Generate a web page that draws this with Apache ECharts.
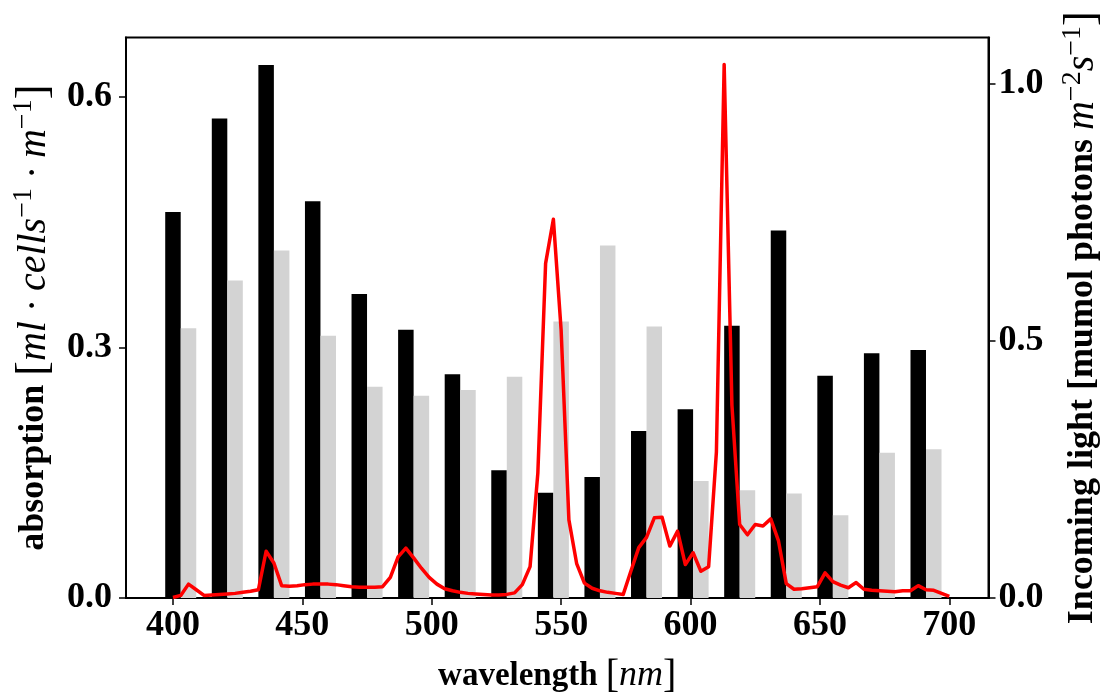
<!DOCTYPE html>
<html>
<head>
<meta charset="utf-8">
<script src="https://cdn.jsdelivr.net/npm/echarts@6/dist/echarts.min.js"></script>
<style>
html,body{margin:0;padding:0;background:#fff;}
#chart{width:1110px;height:693px;}
</style>
</head>
<body>
<div id="chart"></div>
<script>
// Absorption bars (left axis)
const blackWavelengths = [400,418,436,454,472,490,508,526,544,562,580,598,616,634,652,670,688];
const blackAbsorption = [0.462,0.574,0.638,0.475,0.364,0.321,0.268,0.153,0.126,0.145,0.200,0.226,0.326,0.440,0.266,0.293,0.297];
const greyWavelengths = [406,424,442,460,478,496,514,532,550,568,586,604,622,640,658,676,694];
const greyAbsorption = [0.323,0.380,0.416,0.314,0.253,0.242,0.249,0.265,0.331,0.422,0.325,0.140,0.129,0.125,0.099,0.174,0.178];

// Incoming light (right axis)
const lightWavelengths = [400,403,406,409,412,415,418,421,424,427,430,433,436,439,442,445,448,451,454,457,460,463,466,469,472,475,478,481,484,487,490,493,496,499,502,505,508,511,514,517,520,523,526,529,532,535,538,541,544,547,550,553,556,559,562,565,568,571,574,577,580,583,586,589,592,595,598,601,604,607,610,613,616,619,622,625,628,631,634,637,640,643,646,649,652,655,658,661,664,667,670,673,676,679,682,685,688,691,694,697,700];
const lightValues = [0.001,0.005,0.027,0.016,0.005,0.006,0.007,0.008,0.009,0.011,0.013,0.016,0.091,0.068,0.024,0.023,0.024,0.026,0.027,0.027,0.027,0.026,0.024,0.022,0.021,0.021,0.021,0.022,0.040,0.080,0.097,0.078,0.058,0.040,0.027,0.018,0.014,0.011,0.009,0.008,0.007,0.006,0.006,0.007,0.010,0.026,0.061,0.243,0.651,0.737,0.521,0.152,0.067,0.029,0.019,0.014,0.011,0.009,0.007,0.053,0.098,0.118,0.156,0.157,0.101,0.130,0.065,0.088,0.052,0.061,0.284,1.038,0.375,0.143,0.123,0.143,0.140,0.154,0.111,0.028,0.017,0.018,0.020,0.022,0.049,0.032,0.025,0.020,0.030,0.017,0.015,0.014,0.013,0.012,0.014,0.014,0.024,0.016,0.015,0.009,0.003];

const xTicks = [400,450,500,550,600,650,700];
const leftTicks = [0,0.3,0.6];
const rightTicks = [0,0.5,1.0];

const FONT = 'Liberation Serif';
const TICK_FS = 36;
function richFor(k) {
  return {
    b: {fontFamily: FONT, fontWeight: 'bold', fontSize: Math.round(33 * k), color: '#000', lineHeight: Math.round(44 * k)},
    n: {fontFamily: FONT, fontWeight: 'normal', fontSize: Math.round(40 * k), color: '#000', lineHeight: Math.round(44 * k)},
    i: {fontFamily: FONT, fontStyle: 'italic', fontWeight: 'normal', fontSize: Math.round(36 * k), color: '#000', lineHeight: Math.round(44 * k)},
    s: {fontFamily: FONT, fontStyle: 'normal', fontWeight: 'normal', fontSize: Math.round(25 * k), color: '#000', lineHeight: Math.round(26 * k), verticalAlign: 'top'}
  };
}

const chart = echarts.init(document.getElementById('chart'), null, {renderer: 'canvas'});
const option = {
  backgroundColor: '#fff',
  animation: false,
  grid: {left: 126, right: 121.5, top: 37.5, bottom: 95, show: true, borderColor: '#000', borderWidth: 2, containLabel: false, outerBoundsMode: 'none'},
  xAxis: {
    type: 'value', min: 381.85, max: 715.15,
    splitLine: {show: false},
    axisLine: {show: true, lineStyle: {color: '#000', width: 2}},
    axisTick: {show: true, inside: false, length: 7, lineStyle: {color: '#000', width: 1.5}, customValues: xTicks},
    axisLabel: {customValues: xTicks, fontFamily: FONT, fontWeight: 'bold', fontSize: TICK_FS, color: '#000', margin: 10},
    name: '{b|wavelength }{n|[}{i|nm}{n|]}',
    nameLocation: 'middle', nameGap: 56,
    nameTextStyle: {rich: richFor(1)}
  },
  yAxis: [
    {
      type: 'value', min: 0, max: 0.671, position: 'left',
      splitLine: {show: false},
      axisLine: {show: true, lineStyle: {color: '#000', width: 2}},
      axisTick: {show: true, length: 7, lineStyle: {color: '#000', width: 1.5}, customValues: leftTicks},
      axisLabel: {customValues: leftTicks, formatter: v => v.toFixed(1), fontFamily: FONT, fontWeight: 'bold', fontSize: TICK_FS, color: '#000', margin: 14},
      name: '{b|absorption }{n|[}{i|ml · cells}{s|−1}{i| · m}{s|−1}{n|]}',
      nameLocation: 'middle', nameGap: 63, nameRotate: 90,
      nameTextStyle: {rich: richFor(1.1)}
    },
    {
      type: 'value', min: 0, max: 1.0905, position: 'right',
      splitLine: {show: false},
      axisLine: {show: true, lineStyle: {color: '#000', width: 2}},
      axisTick: {show: true, length: 7, lineStyle: {color: '#000', width: 1.5}, customValues: rightTicks},
      axisLabel: {customValues: rightTicks, formatter: v => v.toFixed(1), fontFamily: FONT, fontWeight: 'bold', fontSize: TICK_FS, color: '#000', margin: 10},
      name: '{b|Incoming light [mumol photons }{i|m}{s|−2}{i|s}{s|−1}{n|]}',
      nameLocation: 'middle', nameGap: 70, nameRotate: 90,
      nameTextStyle: {rich: richFor(1.1)}
    }
  ],
  series: [
    {
      type: 'bar', name: 'black', yAxisIndex: 0, barWidth: 15.5, barGap: '-100%',
      itemStyle: {color: '#000'},
      data: blackWavelengths.map((w, i) => [w, blackAbsorption[i]]),
      z: 2
    },
    {
      type: 'bar', name: 'grey', yAxisIndex: 0, barWidth: 15.5, barGap: '-100%',
      itemStyle: {color: '#d3d3d3'},
      data: greyWavelengths.map((w, i) => [w, greyAbsorption[i]]),
      z: 2
    },
    {
      type: 'line', name: 'light', yAxisIndex: 1, showSymbol: false, symbol: 'none',
      lineStyle: {color: '#ff0000', width: 3.5, join: 'round'},
      data: lightWavelengths.map((w, i) => [w, lightValues[i]]),
      z: 5
    }
  ]
};
chart.setOption(option);
</script>
</body>
</html>
